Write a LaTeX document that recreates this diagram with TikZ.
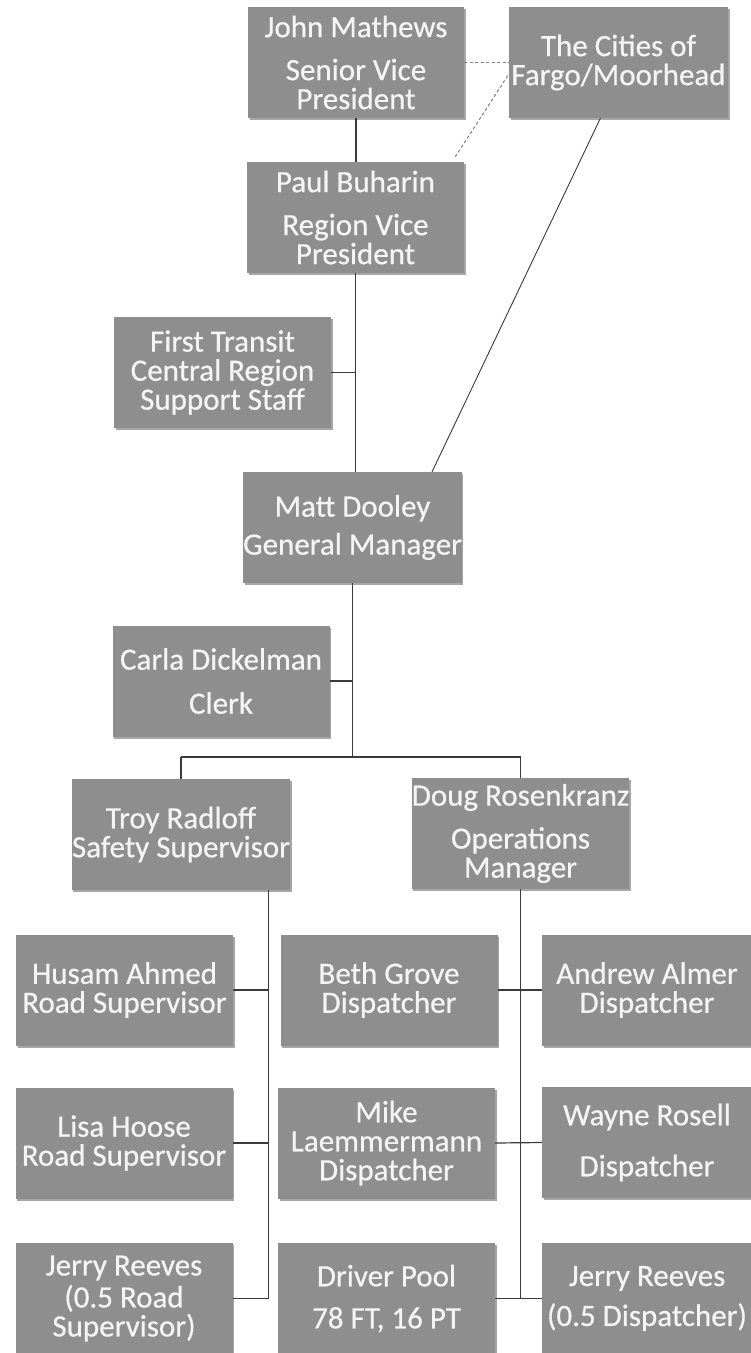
\documentclass[tikz,border=0pt]{standalone}
\usepackage{fontspec}
\setmainfont[FakeBold=0.6]{Carlito}
\usetikzlibrary{shadows,calc}
\definecolor{boxgray}{HTML}{8E8E8E}
\definecolor{boxtext}{HTML}{F4F4F4}
\definecolor{linegray}{HTML}{3A3A3A}
\newcommand{\boxfont}{\fontsize{31}{29}\selectfont}
\tikzset{
  orgbox/.style={rectangle, fill=boxgray, text=boxtext, minimum width=217pt,
    minimum height=111pt, inner sep=0pt, align=center, font=\boxfont,
    drop shadow={shadow xshift=1.5pt, shadow yshift=-2pt, opacity=0.35, fill=black}},
  rightbox/.style={orgbox, minimum width=210pt},
  conn/.style={draw=linegray, line width=1.2pt},
  thinconn/.style={draw=linegray, line width=0.9pt},
  dashconn/.style={draw=gray, line width=1pt, dash pattern=on 3pt off 2.5pt}
}
\begin{document}
\begin{tikzpicture}[x=1pt,y=-1pt]
\useasboundingbox (0,0) rectangle (751,1353);
\fill[white] (0,0) rectangle (751,1353);

\node[orgbox, minimum width=216pt] (john) at (356,62.5) {John Mathews\\[14pt]Senior Vice\\President};
\node[orgbox, minimum width=219pt] (cities) at (618.5,62.5) {The Cities of\\Fargo/Moorhead};
\node[orgbox] (paul) at (355.5,217.5) {Paul Buharin\\[14pt]Region Vice\\President};
\node[orgbox] (first) at (222.5,372.5) {First Transit\\Central Region\\Support Staff};
\node[orgbox] (matt) at (352.5,527.5) {Matt Dooley\\[9pt]General Manager};
\node[orgbox] (carla) at (221,681) {Carla Dickelman\\[15pt]Clerk};
\node[orgbox] (troy) at (181,834.5) {Troy Radloff\\Safety Supervisor};
\node[orgbox] (doug) at (520.5,833.5) {Doug Rosenkranz\\[14pt]Operations\\Manager};

\node[orgbox] (husam) at (124.5,990) {Husam Ahmed\\Road Supervisor};
\node[orgbox] (beth) at (389,990) {Beth Grove\\Dispatcher};
\node[rightbox] (andrew) at (647,990) {Andrew Almer\\Dispatcher};

\node[orgbox] (lisa) at (124,1143) {Lisa Hoose\\Road Supervisor};
\node[orgbox] (mike) at (386.5,1143) {Mike\\Laemmermann\\Dispatcher};
\node[rightbox] (wayne) at (647,1142.5) {Wayne Rosell\\[22pt]Dispatcher};

\node[orgbox] (jerryl) at (124,1298.5) {Jerry Reeves\\[3pt](0.5 Road\\Supervisor)};
\node[orgbox] (driver) at (386.5,1298.5) {Driver Pool\\[13pt]78 FT, 16 PT};
\node[rightbox] (jerryr) at (647,1298.5) {Jerry Reeves\\[11pt](0.5 Dispatcher)};

% main spine
\draw[conn] (john.south) -- (john.south |- paul.north);
\draw[conn] (paul.south) -- (paul.south |- matt.north);
\draw[conn] (first.east) -- (first.east -| paul.south);
\coordinate (bus) at (355,757);
\draw[conn] (matt.south) -- (matt.south |- bus);
\draw[conn] (carla.east) -- (carla.east -| matt.south);
\draw[conn] (troy.north |- bus) -- (doug.north |- bus);
\draw[conn] (troy.north |- bus) -- (troy.north);
\draw[conn] (doug.north |- bus) -- (doug.north);

% left column
\coordinate (lv) at ([xshift=-22pt]troy.south east);
\draw[conn] (lv) -- (lv |- jerryl.east);
\draw[conn] (husam.east) -- (husam.east -| lv);
\draw[conn] (lisa.east) -- (lisa.east -| lv);
\draw[conn] (jerryl.east) -- (jerryl.east -| lv);

% right column
\draw[conn] (doug.south) -- (doug.south |- jerryr.west);
\draw[conn] (beth.east) -- (andrew.west);
\draw[conn] (mike.east) -- (wayne.west);
\draw[conn] (driver.east) -- (jerryr.west);

% city links
\draw[dashconn] (john.east) -- (cities.west);
\draw[dashconn, shorten <=6pt] (paul.30) -- (cities.186);
\draw[thinconn] (cities.252) -- (matt.35);
\end{tikzpicture}
\end{document}
